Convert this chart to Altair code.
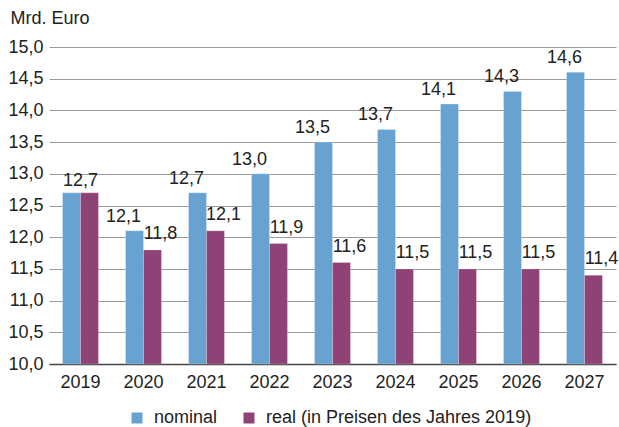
import altair as alt
import pandas as pd

years = ["2019", "2020", "2021", "2022", "2023", "2024", "2025", "2026", "2027"]
nominal = [12.7, 12.1, 12.7, 13.0, 13.5, 13.7, 14.1, 14.3, 14.6]
real = [12.7, 11.8, 12.1, 11.9, 11.6, 11.5, 11.5, 11.5, 11.4]
series_names = ["nominal", "real (in Preisen des Jahres 2019)"]
colors = ["#67a2d1", "#8e4275"]
y_ticks = [10.0, 10.5, 11.0, 11.5, 12.0, 12.5, 13.0, 13.5, 14.0, 14.5, 15.0]

rows = []
for i, y in enumerate(years):
    rows.append({"year": y, "series": series_names[0], "value": nominal[i]})
    rows.append({"year": y, "series": series_names[1], "value": real[i]})
df = pd.DataFrame(rows)
df["label"] = df["value"].map(lambda v: f"{v:.1f}".replace(".", ","))

FONT = "Liberation Sans"
FS = 18
TXT = "#222222"

x_enc = alt.X(
    "year:N",
    sort=years,
    title=None,
    scale=alt.Scale(paddingInner=0.43, paddingOuter=0.215),
    axis=alt.Axis(
        labelAngle=0,
        labelFont=FONT,
        labelFontSize=FS,
        labelColor=TXT,
        labelPadding=9,
        ticks=False,
        domainColor="#444444",
        domainWidth=1.5,
        grid=False,
    ),
)
y_enc = alt.Y(
    "value:Q",
    scale=alt.Scale(domain=[10, 15], zero=False, nice=False),
    axis=alt.Axis(
        values=y_ticks,
        tickCount=11,
        labelOverlap=False,
        labelExpr="replace(format(datum.value, '.1f'), '.', ',')",
        labelFont=FONT,
        labelFontSize=FS,
        labelColor=TXT,
        labelPadding=6,
        ticks=False,
        domain=False,
        grid=True,
        gridColor="#9a9a9a",
        gridWidth=1,
        title="Mrd. Euro",
        titleAngle=0,
        titleAlign="left",
        titleBaseline="alphabetic",
        titleX=-39,
        titleY=-24,
        titleFont=FONT,
        titleFontSize=FS,
        titleFontWeight="normal",
        titleColor=TXT,
    ),
)
xoff = alt.XOffset("series:N", sort=series_names, scale=alt.Scale(paddingInner=0))
color_enc = alt.Color(
    "series:N",
    sort=series_names,
    scale=alt.Scale(domain=series_names, range=colors),
    legend=alt.Legend(
        title=None,
        orient="none",
        direction="horizontal",
        legendX=79,
        legendY=362,
        symbolType="square",
        symbolSize=121,
        symbolStrokeWidth=0,
        symbolOpacity=1,
        labelFont=FONT,
        labelFontSize=FS,
        labelColor=TXT,
        labelOffset=8,
        labelLimit=0,
        columnPadding=22,
        padding=0,
    ),
)

base = alt.Chart(df)

bars = base.mark_bar(stroke="#ffffff", strokeWidth=0.4, strokeOpacity=0.6).encode(
    x=x_enc,
    xOffset=xoff,
    y=y_enc,
    y2=alt.datum(10),
    color=color_enc,
)

text_style = dict(font=FONT, fontSize=FS, color=TXT, baseline="alphabetic")

nom_labels = (
    base.transform_filter(
        (alt.datum.series == series_names[0]) & (alt.datum.year != "2019")
    )
    .mark_text(dx=-11, dy=-9, **text_style)
    .encode(x=alt.X("year:N", sort=years), xOffset=xoff, y=y_enc, text="label:N")
)
real_labels = (
    base.transform_filter(
        (alt.datum.series == series_names[1]) & (alt.datum.year != "2019")
    )
    .mark_text(dx=8, dy=-11, **text_style)
    .encode(x=alt.X("year:N", sort=years), xOffset=xoff, y=y_enc, text="label:N")
)
# both series share the same value in the base year: one centred label
base_label = (
    base.transform_filter(
        (alt.datum.series == series_names[0]) & (alt.datum.year == "2019")
    )
    .mark_text(dy=-7, **text_style)
    .encode(x=alt.X("year:N", sort=years), y=y_enc, text="label:N")
)

chart = (
    alt.layer(bars, nom_labels, real_labels, base_label)
    .properties(
        width=567,
        height=317,
        autosize=alt.AutoSizeParams(type="none"),
        padding={"left": 49, "top": 47, "right": 3, "bottom": 63},
        background="#ffffff",
    )
    .configure_view(stroke=None)
)

chart.save("out.html", embed_options={"renderer": "svg", "actions": False})
